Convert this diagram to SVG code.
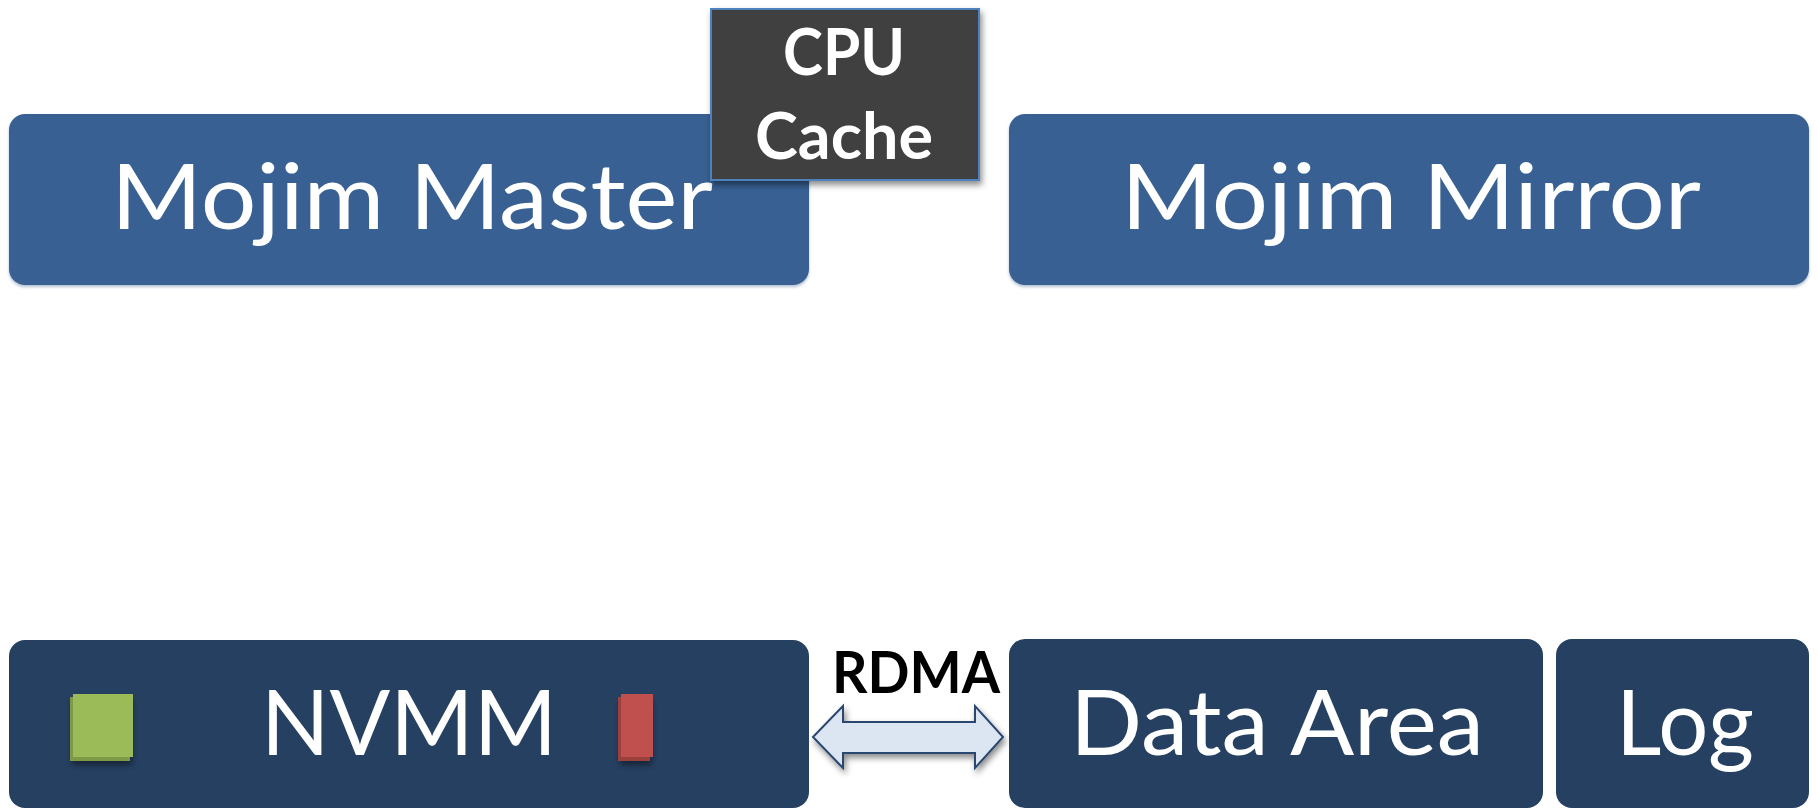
<svg xmlns="http://www.w3.org/2000/svg" width="1818" height="809" viewBox="0 0 1818 809">
  <style>
    .top { fill: #376092; }
    .bottom { fill: #264061; }
    .label { font-family: Lato, "Open Sans", sans-serif; fill: #ffffff; text-anchor: middle; }
    .big { font-size: 92px; }
    .bold { font-weight: bold; font-size: 65px; }
  </style>
  <defs>
    <filter id="shadow" x="-10%" y="-10%" width="130%" height="140%">
      <feDropShadow dx="2" dy="4" stdDeviation="3" flood-color="#000000" flood-opacity="0.45"/>
    </filter>
    <filter id="soft" x="-5%" y="-5%" width="110%" height="115%">
      <feDropShadow dx="0" dy="2" stdDeviation="1.5" flood-color="#7f95b5" flood-opacity="0.6"/>
    </filter>
  </defs>

  <!-- host machines -->
  <g id="mojim-master">
    <rect class="top" x="9" y="114" width="800" height="171" rx="16" filter="url(#soft)"/>
    <text class="label big" x="412" y="229" textLength="602" lengthAdjust="spacingAndGlyphs">Mojim Master</text>
  </g>

  <g id="mojim-mirror">
    <rect class="top" x="1009" y="114" width="800" height="171" rx="16" filter="url(#soft)"/>
    <text class="label big" x="1411" y="229" textLength="580" lengthAdjust="spacingAndGlyphs">Mojim Mirror</text>
  </g>

  <g id="cpu-cache">
    <rect x="711" y="9" width="268" height="171" fill="#404040" stroke="#4f81bd" stroke-width="2" filter="url(#shadow)"/>
    <text class="label bold" x="844" y="75" textLength="122" lengthAdjust="spacingAndGlyphs">CPU</text>
    <text class="label bold" x="844" y="159" textLength="178" lengthAdjust="spacingAndGlyphs">Cache</text>
  </g>

  <!-- non-volatile memory on each side -->
  <g id="nvmm">
    <rect class="bottom" x="9" y="640" width="800" height="168" rx="16"/>
    <rect x="70" y="697" width="60" height="64" fill="#7e9a46" filter="url(#shadow)"/>
    <rect x="73" y="694" width="60" height="63" fill="#9bbb59"/>
    <rect x="618" y="697" width="32" height="64" fill="#9c3f3c" filter="url(#shadow)"/>
    <rect x="621" y="694" width="32" height="63" fill="#c0504d"/>
    <text class="label big" x="409" y="755" textLength="296" lengthAdjust="spacingAndGlyphs">NVMM</text>
  </g>

  <g id="data-area">
    <rect class="bottom" x="1009" y="639" width="534" height="169" rx="16"/>
    <text class="label big" x="1277" y="755" textLength="414" lengthAdjust="spacingAndGlyphs">Data Area</text>
  </g>

  <g id="log">
    <rect class="bottom" x="1556" y="639" width="253" height="169" rx="16"/>
    <text class="label big" x="1685" y="755" textLength="138" lengthAdjust="spacingAndGlyphs">Log</text>
  </g>

  <!-- RDMA link between master and mirror memory -->
  <g id="connectors">
    <path d="M813,737 L843,706 L843,722 L975,722 L975,706 L1003,737 L975,768 L975,753 L843,753 L843,768 Z"
          fill="#dce6f2" stroke="#2c4770" stroke-width="2" stroke-linejoin="miter" filter="url(#shadow)"/>
    <text x="916" y="693" font-family="Lato, 'Open Sans', sans-serif" font-weight="bold" font-size="58" fill="#000000" text-anchor="middle" textLength="168" lengthAdjust="spacingAndGlyphs">RDMA</text>
  </g>
</svg>
